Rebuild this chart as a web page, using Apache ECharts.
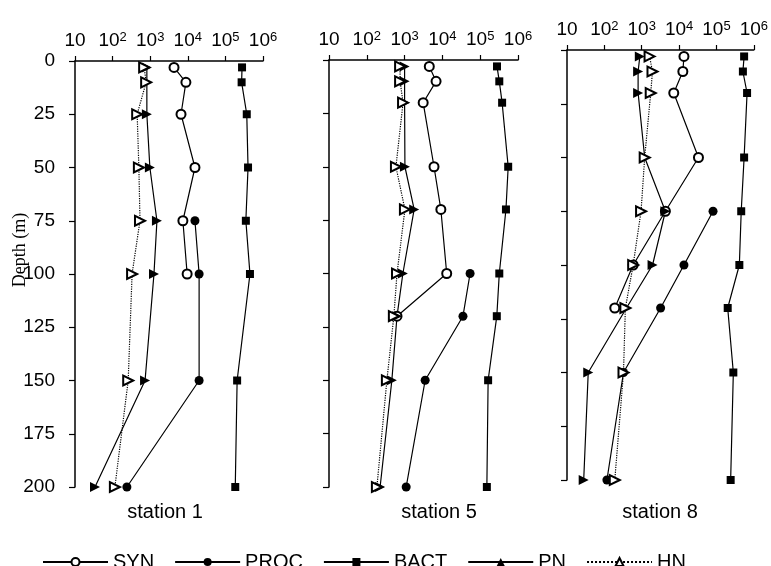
<!DOCTYPE html>
<html>
<head>
<meta charset="utf-8">
<script src="https://cdn.jsdelivr.net/npm/echarts@6/dist/echarts.min.js"></script>
<style>
  html, body { margin: 0; padding: 0; background: #fff; }
  #main { width: 771px; height: 566px; }
</style>
</head>
<body>
<div id="main"></div>
<script>
// sampling depths (m) per station
const depths1 = [3, 10, 25, 50, 75, 100, 150, 200];
const depths5 = [3, 10, 20, 50, 70, 100, 120, 150, 200];
const depths8 = [3, 10, 20, 50, 75, 100, 120, 150, 200];

// cells per ml
const syn1  = [4300, 8900, 6600, 15500, 7400, 9600, null, null];
const proc1 = [null, null, null, null, 15500, 20000, 20000, 240];
const bact1 = [277000, 270000, 370000, 400000, 350000, 450000, 205000, 183000];
const pn1   = [815, 815, 815, 980, 1510, 1260, 730, 34];
const hn1   = [690, 780, 450, 500, 535, 330, 260, 115];

const syn5  = [4500, 6800, 3100, 6000, 9100, 13000, 630, null, null];
const proc5 = [null, null, null, null, null, 54000, 35000, 3500, 1100];
const bact5 = [278000, 320000, 380000, 550000, 480000, 320000, 275000, 162000, 150000];
const pn5   = [1000, 1000, 1000, 1020, 1790, 900, 630, 460, 225];
const hn5   = [760, 760, 910, 590, 1020, 630, 520, 340, 185];

const syn8  = [13500, 12600, 7200, 33000, 4300, 590, 190, null, null];
const proc8 = [null, null, null, null, 81000, 13500, 3200, 325, 117];
const bact8 = [550000, 510000, 660000, 550000, 460000, 410000, 200000, 283000, 240000];
const pn8   = [890, 800, 800, 1200, 4300, 1950, 390, 37, 28];
const hn8   = [1620, 1940, 1740, 1200, 960, 590, 365, 325, 190];

const seriesNames = ['SYN', 'PROC', 'BACT', 'PN', 'HN'];
const stationNames = ['station 1', 'station 5', 'station 8'];

function pts(vals, depths) {
  return vals.map((v, i) => v == null ? null : [v, depths[i]]).filter(p => p);
}

const stations = [
  { depths: depths1, data: [syn1, proc1, bact1, pn1, hn1] },
  { depths: depths5, data: [syn5, proc5, bact5, pn5, hn5] },
  { depths: depths8, data: [syn8, proc8, bact8, pn8, hn8] }
];

const styles = {
  SYN:  { symbol: 'emptyCircle', symbolSize: 9, symbolRotate: 0, line: 'solid' },
  PROC: { symbol: 'circle', symbolSize: 9, symbolRotate: 0, line: 'solid' },
  BACT: { symbol: 'rect', symbolSize: 8, symbolRotate: 0, line: 'solid' },
  PN:   { symbol: 'triangle', symbolSize: 10, symbolRotate: -90, line: 'solid' },
  HN:   { symbol: 'emptyTriangle', symbolSize: 10, symbolRotate: -90, line: 'dotted' }
};

const grids = [
  { left: 75, top: 61, width: 188, height: 426 },
  { left: 329, top: 60, width: 189, height: 427 },
  { left: 567, top: 50, width: 192, height: 430 }
];
const labelX = [165, 439, 660];

const font = 'Liberation Sans, Arial, sans-serif';

const xAxes = grids.map((g, i) => ({
  type: 'log', logBase: 10, gridIndex: i, position: 'top',
  min: 10, max: 1000000,
  axisLine: { onZero: false, lineStyle: { color: '#000', width: 1.5 } },
  axisTick: { show: true, length: 5, lineStyle: { color: '#000', width: 1.2 } },
  splitLine: { show: false },
  axisLabel: {
    color: '#000', margin: 10,
    formatter: v => {
      const e = Math.round(Math.log10(v));
      return e === 1 ? '{b|10}' : '{b|10}{s|' + e + '}';
    },
    rich: {
      b: { fontSize: 19, fontFamily: font, color: '#000', lineHeight: 20 },
      s: { fontSize: 13, fontFamily: font, color: '#000', verticalAlign: 'top', lineHeight: 13 }
    }
  }
}));

const yAxes = grids.map((g, i) => ({
  type: 'value', gridIndex: i, inverse: true,
  min: 0, max: 200, interval: 25,
  axisLine: { onZero: false, lineStyle: { color: '#000', width: 1.5 } },
  axisTick: { show: true, length: 6, lineStyle: { color: '#000', width: 1.2 } },
  splitLine: { show: false },
  axisLabel: { show: i === 0, color: '#000', fontSize: 19, fontFamily: font, margin: 20 }
}));

const series = [];
stations.forEach((st, si) => {
  seriesNames.forEach((name, k) => {
    const s = styles[name];
    series.push({
      name: name, type: 'line',
      xAxisIndex: si, yAxisIndex: si,
      data: pts(st.data[k], st.depths),
      symbol: s.symbol, symbolSize: s.symbolSize, symbolRotate: s.symbolRotate,
      itemStyle: { color: '#000', borderWidth: 1.2 },
      lineStyle: { color: '#000', width: 1.2, type: s.line },
      z: name === 'HN' ? 3 : 2
    });
  });
});

const graphics = stationNames.map((t, i) => ({
  type: 'text',
  x: labelX[i], y: 512,
  style: { text: t, fill: '#000', font: '20px ' + font, align: 'center', verticalAlign: 'middle' }
}));
graphics.push({
  type: 'text',
  x: 20, y: 250, rotation: Math.PI / 2,
  style: { text: 'Depth (m)', fill: '#000', font: '18px Liberation Serif, Times New Roman, serif', align: 'center', verticalAlign: 'middle' }
});

const chart = echarts.init(document.getElementById('main'));
chart.setOption({
  animation: false,
  backgroundColor: '#fff',
  grid: grids,
  xAxis: xAxes,
  yAxis: yAxes,
  legend: {
    left: 37, top: 547,
    itemWidth: 65, itemHeight: 10, itemGap: 20,
    textStyle: { color: '#000', fontSize: 20, fontFamily: font },
    data: seriesNames.map(n => ({ name: n, symbolRotate: 0 }))
  },
  graphic: graphics,
  series: series
});
</script>
</body>
</html>
